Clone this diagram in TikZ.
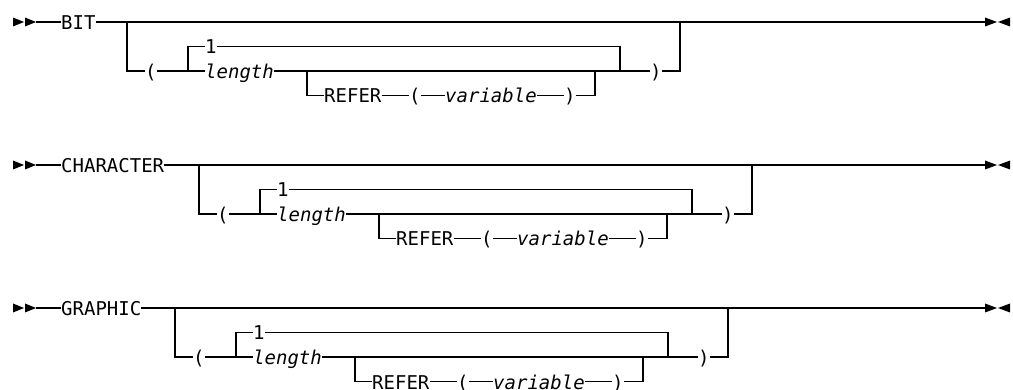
\documentclass[tikz,border=0pt]{standalone}
\usepackage{fontspec}
\newfontfamily\railfont{DejaVu Sans Mono}
\tikzset{
  rail/.style={line width=1.2pt},
  tok/.style={font=\railfont\fontsize{19}{19}\selectfont, inner xsep=0pt, inner ysep=0pt,
              text height=15pt, text depth=0pt, anchor=west},
  var/.style={tok, font=\railfont\itshape\fontsize{19}{19}\selectfont},
}
% One syntax row: #1 name prefix, #2 y of the main line, #3 x of the optional branch, #4 keyword
\newcommand\railrow[4]{%
  % start marker
  \fill (13,#2-4.5) -- (24,#2) -- (13,#2+4.5) -- cycle;
  \fill (25,#2-4.5) -- (36,#2) -- (25,#2+4.5) -- cycle;
  \coordinate (#1st) at (36,#2);
  % end marker
  \coordinate (#1end) at (985,#2);
  \fill (985,#2-4.5) -- (997,#2) -- (985,#2+4.5) -- cycle;
  \fill (1010,#2-4.5) -- (998,#2) -- (1010,#2+4.5) -- cycle;
  % tokens
  \node[tok] (#1kw)  at (61,#2) {#4};
  \node[tok] (#1lp)  at (#3+18,#2+49) {(};
  \node[tok] (#1one) at (#3+78,#2+24.5) {1};
  \node[var] (#1len) at (#3+78,#2+49) {length};
  \node[tok] (#1ref) at (#3+197,#2+73.5) {REFER};
  \node[tok] (#1rlp) at (#3+282,#2+73.5) {(};
  \node[var] (#1var) at (#3+318,#2+73.5) {variable};
  \node[tok] (#1rrp) at (#3+437,#2+73.5) {)};
  \node[tok] (#1rp)  at (#3+523,#2+49) {)};
  % junctions
  \coordinate (#1b)  at (#3,#2);
  \coordinate (#1j1) at (#3+61,#2+49);
  \coordinate (#1j2) at (#3+180,#2+49);
  \coordinate (#1j3) at (#3+468,#2+49);
  \coordinate (#1j4) at (#3+493,#2+49);
  \coordinate (#1j5) at (#3+553,#2);
  % connectors
  \draw[rail] (#1st) -- (#1kw);
  \draw[rail] (#1kw) -- (#1end);
  \draw[rail] (#1b) |- (#1lp);
  \draw[rail] (#1lp) -- (#1len);
  \draw[rail] (#1one) -| (#1j1);
  \draw[rail] (#1one) -| (#1j4);
  \draw[rail] (#1len) -- (#1rp);
  \draw[rail] (#1j2) |- (#1ref);
  \draw[rail] (#1ref) -- (#1rlp);
  \draw[rail] (#1rlp) -- (#1var);
  \draw[rail] (#1var) -- (#1rrp);
  \draw[rail] (#1rrp) -| (#1j3);
  \draw[rail] (#1rp) -| (#1j5);
}
\begin{document}
\begin{tikzpicture}[x=1pt,y=-1pt]
  \useasboundingbox (0,0) rectangle (1013,390);
  \railrow{bit}{22}{127}{BIT}
  \railrow{chr}{165}{199}{CHARACTER}
  \railrow{gra}{308}{175}{GRAPHIC}
\end{tikzpicture}
\end{document}
